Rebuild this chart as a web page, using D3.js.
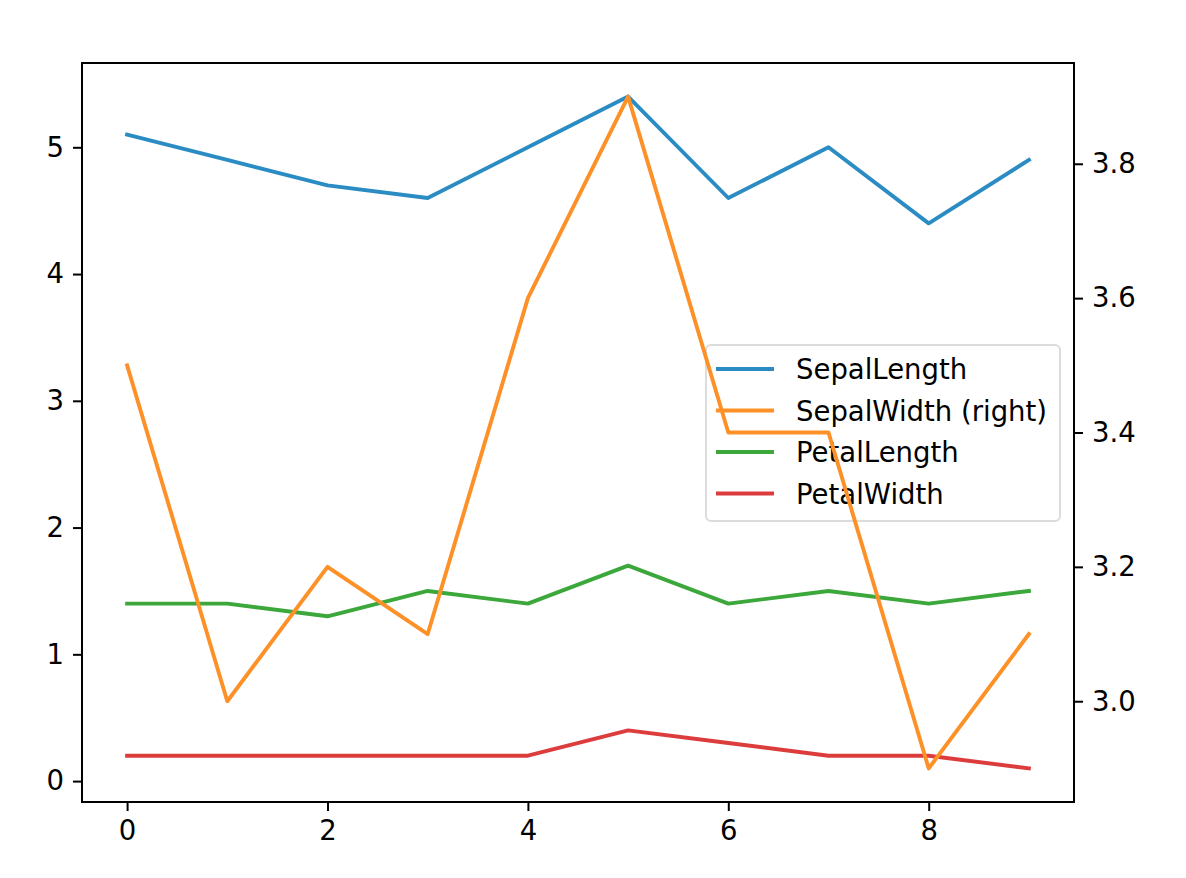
<!DOCTYPE html>
<html><head><meta charset="utf-8">
<script src="https://cdn.jsdelivr.net/npm/d3@7"></script>
<style>body{margin:0;background:#fff}svg{font-family:"DejaVu Sans",sans-serif}</style>
</head><body><svg id="c" width="1186" height="878"></svg>
<script>
const xIndex = [0,1,2,3,4,5,6,7,8,9];
const sepalLength = [5.1,4.9,4.7,4.6,5.0,5.4,4.6,5.0,4.4,4.9];
const sepalWidth = [3.5,3.0,3.2,3.1,3.6,3.9,3.4,3.4,2.9,3.1];
const petalLength = [1.4,1.4,1.3,1.5,1.4,1.7,1.4,1.5,1.4,1.5];
const petalWidth = [0.2,0.2,0.2,0.2,0.2,0.4,0.3,0.2,0.2,0.1];
const xTicks = [0,2,4,6,8];
const yLeftTicks = [0,1,2,3,4,5];
const yRightTicks = [3.0,3.2,3.4,3.6,3.8];
const legendLabels = ["SepalLength","SepalWidth (right)","PetalLength","PetalWidth"];
const colors = ["#2b8cc4","#fd9127","#3ca83c","#dc3c3c"];

const L=82,R=1074,T=63,B=802;
const svg=d3.select("#c");
const x=d3.scaleLinear().domain([-0.45,9.45]).range([L,R]);
const yl=d3.scaleLinear().domain([-0.165,5.665]).range([B,T]);
const yr=d3.scaleLinear().domain([2.85,3.95]).range([B,T]);
const fs=27.5;

function line(data,ys,color){
  svg.append("path").datum(data)
    .attr("d",d3.line().x((d,i)=>x(xIndex[i])).y(d=>ys(d)))
    .attr("fill","none").attr("stroke",color).attr("stroke-width",3.9)
    .attr("stroke-linejoin","round").attr("stroke-linecap","square");
}
line(sepalLength,yl,colors[0]);
line(petalLength,yl,colors[2]);
line(petalWidth,yl,colors[3]);

const lg=svg.append("g");
lg.append("rect").attr("x",706).attr("y",345).attr("width",354).attr("height",176)
  .attr("rx",5).attr("fill","#fff").attr("fill-opacity",0.8).attr("stroke","#dcdcdc").attr("stroke-width",2);
legendLabels.forEach((t,i)=>{
  const cy=369+i*41.5;
  lg.append("line").attr("x1",716).attr("x2",774).attr("y1",cy).attr("y2",cy)
    .attr("stroke",colors[i]).attr("stroke-width",3.9);
  lg.append("text").attr("x",796).attr("y",cy+10).attr("font-size",fs).text(t);
});

line(sepalWidth,yr,colors[1]);

function style(g){
  g.selectAll("path.domain").remove();
  g.selectAll(".tick line").attr("stroke","#000").attr("stroke-width",2);
  g.selectAll(".tick text").attr("font-size",fs).attr("fill","#000").attr("font-family","DejaVu Sans");
}
svg.append("g").attr("transform",`translate(0,${B})`)
  .call(d3.axisBottom(x).tickValues(xTicks).tickFormat(d3.format("d")).tickSize(9).tickPadding(9)).call(style);
svg.append("g").attr("transform",`translate(${L},0)`)
  .call(d3.axisLeft(yl).tickValues(yLeftTicks).tickFormat(d3.format("d")).tickSize(9).tickPadding(9)).call(style);
svg.append("g").attr("transform",`translate(${R},0)`)
  .call(d3.axisRight(yr).tickValues(yRightTicks).tickFormat(d3.format(".1f")).tickSize(9).tickPadding(9)).call(style);
svg.append("rect").attr("x",L).attr("y",T).attr("width",R-L).attr("height",B-T)
  .attr("fill","none").attr("stroke","#000").attr("stroke-width",2);
</script></body></html>
